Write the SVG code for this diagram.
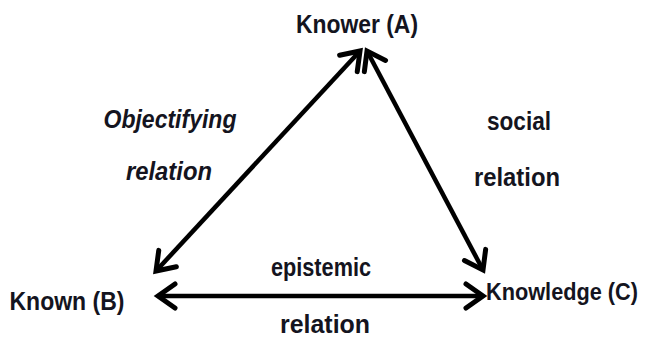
<svg xmlns="http://www.w3.org/2000/svg" width="647" height="342" viewBox="0 0 647 342">
  <style>
    .lbl { font-family: "Liberation Sans", Arial, sans-serif; font-weight: bold; font-size: 25px; fill: #141420; text-anchor: middle; }
    .it { font-style: italic; }
    .edge { stroke: #000; stroke-width: 4.5; fill: none; marker-start: url(#head); marker-end: url(#head); }
  </style>
  <defs>
    <!-- open V arrowhead, reversed at the start of each line -->
    <marker id="head" viewBox="-20 -14 24 28" refX="0" refY="0" markerWidth="24" markerHeight="28" markerUnits="userSpaceOnUse" orient="auto-start-reverse" overflow="visible">
      <path d="M-17,-12 L0,0 L-17,12" stroke="#000" stroke-width="5" fill="none" stroke-linejoin="miter" stroke-linecap="round"/>
    </marker>
  </defs>

  <g id="connectors">
    <line class="edge" x1="156" y1="271" x2="360" y2="51"/>
    <line class="edge" x1="367" y1="51" x2="483" y2="270"/>
    <line class="edge" x1="158" y1="296" x2="483" y2="296"/>
  </g>

  <g id="knower">
    <text class="lbl" x="357" y="33" textLength="122" lengthAdjust="spacingAndGlyphs">Knower (A)</text>
  </g>
  <g id="known">
    <text class="lbl" x="67" y="310" textLength="115" lengthAdjust="spacingAndGlyphs">Known (B)</text>
  </g>
  <g id="knowledge">
    <text class="lbl" x="562" y="300" style="font-size:23px" textLength="152" lengthAdjust="spacingAndGlyphs">Knowledge (C)</text>
  </g>

  <g id="edge-labels">
    <text class="lbl it" x="170" y="128" textLength="133" lengthAdjust="spacingAndGlyphs">Objectifying</text>
    <text class="lbl it" x="169" y="180" textLength="86" lengthAdjust="spacingAndGlyphs">relation</text>
    <text class="lbl" x="519" y="130" textLength="64" lengthAdjust="spacingAndGlyphs">social</text>
    <text class="lbl" x="517" y="186" textLength="86" lengthAdjust="spacingAndGlyphs">relation</text>
    <text class="lbl" x="321" y="276" textLength="100" lengthAdjust="spacingAndGlyphs">epistemic</text>
    <text class="lbl" x="325" y="333" textLength="90" lengthAdjust="spacingAndGlyphs">relation</text>
  </g>
</svg>
